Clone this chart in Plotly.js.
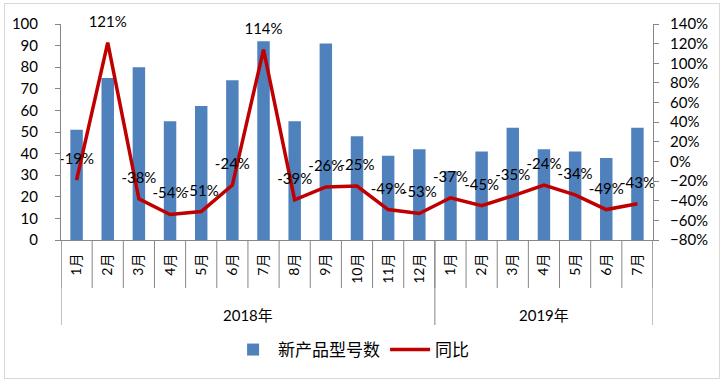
<!DOCTYPE html>
<html>
<head>
<meta charset="utf-8">
<script src="https://cdn.plot.ly/plotly-3.0.1.min.js"></script>
<style>
html,body{margin:0;padding:0;background:#fff;}
#chart{width:728px;height:384px;}
#frame{position:absolute;left:4px;top:3px;width:714px;height:374px;border:1px solid #d9d9d9;pointer-events:none;}
</style>
</head>
<body>
<div id="chart"></div>
<div id="frame"></div>
<script>
const months = ['1月','2月','3月','4月','5月','6月','7月','8月','9月','10月','11月','12月','1月','2月','3月','4月','5月','6月','7月'];
const yearLabels = ['2018年','2019年'];
const yearCounts = [12, 7];
const models = [51,75,80,55,62,74,92,55,91,48,39,42,32,41,52,42,41,38,52];
const yoy = [-19,121,-38,-54,-51,-24,114,-39,-26,-25,-49,-53,-37,-45,-35,-24,-34,-49,-43];
const seriesNames = ['新产品型号数','同比'];

const idx = months.map((_, i) => i);
const font = 'Lato, "Noto Sans CJK SC", sans-serif';

const traces = [
  {
    type: 'bar', x: idx, y: models, name: seriesNames[0],
    marker: {color: '#4F81BD'}, hoverinfo: 'skip'
  },
  {
    type: 'scatter', mode: 'lines+markers+text', x: idx, y: yoy, yaxis: 'y2', name: seriesNames[1],
    line: {color: '#C00000', width: 3.5},
    marker: {size: 18, color: 'rgba(0,0,0,0)'},
    text: yoy.map(v => v + '%'), textposition: 'top center', cliponaxis: false,
    textfont: {family: font, size: 15, color: '#000'},
    hoverinfo: 'skip'
  }
];

const shapes = [];
const annotations = [];
const sepLen = -(288 - 240) / 216;
const divLen = -(325 - 240) / 216;
for (let i = 0; i <= months.length; i++) {
  shapes.push({type: 'line', xref: 'x', yref: 'paper', x0: i - 0.5, x1: i - 0.5, y0: 0, y1: sepLen,
    line: {color: '#868686', width: 1}});
}
let start = 0;
yearLabels.forEach((lab, k) => {
  const end = start + yearCounts[k];
  shapes.push({type: 'line', xref: 'x', yref: 'paper', x0: start - 0.5, x1: start - 0.5, y0: 0, y1: divLen,
    line: {color: '#868686', width: 1}});
  if (k === yearLabels.length - 1) {
    shapes.push({type: 'line', xref: 'x', yref: 'paper', x0: end - 0.5, x1: end - 0.5, y0: 0, y1: divLen,
      line: {color: '#868686', width: 1}});
  }
  annotations.push({xref: 'x', yref: 'paper', x: (start + end - 1) / 2, y: -(315 - 240) / 216,
    text: lab, showarrow: false, yanchor: 'middle', font: {family: font, size: 15, color: '#000'}});
  start = end;
});

const layout = {
  width: 728, height: 384,
  margin: {l: 61, r: 75, t: 24, b: 144},
  paper_bgcolor: '#fff', plot_bgcolor: '#fff',
  bargap: 0.6,
  showlegend: true,
  legend: {orientation: 'h', x: 0.49, xanchor: 'center', y: -(350 - 240) / 216, yanchor: 'middle',
    font: {family: font, size: 17, color: '#000'}, itemwidth: 40, traceorder: 'normal'},
  xaxis: {
    range: [-0.5, months.length - 0.5], tickvals: idx, ticktext: months, tickangle: -90,
    ticks: '', showgrid: false, zeroline: false, showline: true, linecolor: '#868686',
    ticklabelstandoff: 7, tickfont: {family: font, size: 14, color: '#000'}, fixedrange: true
  },
  yaxis: {
    range: [0, 100], dtick: 10, showgrid: false, zeroline: false, showline: true, linecolor: '#868686',
    ticks: 'outside', ticklen: 5, tickcolor: '#868686', ticklabelstandoff: 14,
    tickfont: {family: font, size: 15, color: '#000'}, fixedrange: true
  },
  yaxis2: {
    overlaying: 'y', side: 'right', range: [-80, 140], dtick: 20, ticksuffix: '%',
    showgrid: false, zeroline: false, showline: true, linecolor: '#868686',
    ticks: 'outside', ticklen: 5, tickcolor: '#868686', ticklabelstandoff: 8,
    tickfont: {family: font, size: 15, color: '#000'}, fixedrange: true
  },
  shapes: shapes,
  annotations: annotations
};

Plotly.newPlot('chart', traces, layout, {displayModeBar: false, staticPlot: true});
</script>
</body>
</html>
